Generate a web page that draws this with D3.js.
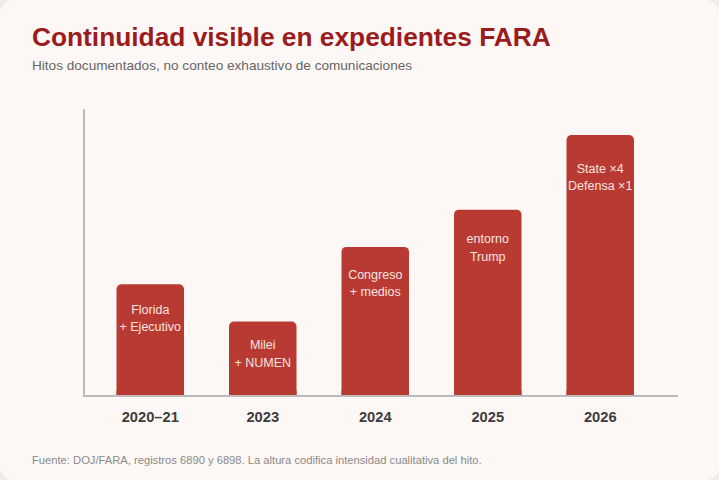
<!DOCTYPE html>
<html>
<head>
<meta charset="utf-8">
<script src="https://cdn.jsdelivr.net/npm/d3@7"></script>
<style>
  html, body { margin: 0; padding: 0; background: #efedeb; }
  #card {
    width: 719px; height: 480px;
    background: #fdf8f5;
    border-radius: 14px;
    overflow: hidden;
  }
  svg { display: block; font-family: "Liberation Sans", Arial, sans-serif; }
</style>
</head>
<body>
<div id="card"></div>
<script>
const years = ["2020–21", "2023", "2024", "2025", "2026"];
const intensity = [3, 2, 4, 5, 7];
const labelTop = ["Florida", "Milei", "Congreso", "entorno", "State ×4"];
const labelBottom = ["+ Ejecutivo", "+ NUMEN", "+ medios", "Trump", "Defensa ×1"];

const width = 719, height = 480;
const margin = {top: 109, bottom: 396, left: 84, right: 678};

const svg = d3.select("#card").append("svg")
  .attr("width", width)
  .attr("height", height);

const x = d3.scaleBand()
  .domain(years)
  .range([94, 656.5])
  .paddingInner(0.4)
  .paddingOuter(0.2);

const y = d3.scaleLinear()
  .domain([0, d3.max(intensity) * 1.1])
  .range([margin.bottom, margin.top]);

const data = years.map((d, i) => ({
  year: d, value: intensity[i], top: labelTop[i], bottom: labelBottom[i]
}));

// title block
svg.append("text")
  .attr("x", 32).attr("y", 46)
  .attr("fill", "#9b1c1f")
  .attr("font-size", 26.3)
  .attr("font-weight", "bold")
  .text("Continuidad visible en expedientes FARA");

svg.append("text")
  .attr("x", 32).attr("y", 70)
  .attr("fill", "#666")
  .attr("font-size", 13.6)
  .text("Hitos documentados, no conteo exhaustivo de comunicaciones");

// bars
svg.selectAll(".bar")
  .data(data)
  .enter().append("rect")
  .attr("class", "bar")
  .attr("x", d => x(d.year))
  .attr("y", d => y(d.value))
  .attr("width", x.bandwidth())
  .attr("height", d => y(0) - y(d.value) + 5)
  .attr("rx", 5)
  .attr("fill", "#b93a32");

// cover the rounded bottom corners so bars sit flat on the baseline
svg.selectAll(".bar-foot")
  .data(data)
  .enter().append("rect")
  .attr("x", d => x(d.year))
  .attr("y", y(0) - 6)
  .attr("width", x.bandwidth())
  .attr("height", 6)
  .attr("fill", "#b93a32");

svg.append("rect")
  .attr("x", 0).attr("y", y(0) + 1)
  .attr("width", width).attr("height", 8)
  .attr("fill", "#fdf8f5");

// labels inside bars
const lab = svg.selectAll(".lab")
  .data(data)
  .enter().append("text")
  .attr("class", "lab")
  .attr("text-anchor", "middle")
  .attr("fill", "#f7e4e0")
  .attr("font-size", 12.5);

lab.append("tspan")
  .attr("x", d => x(d.year) + x.bandwidth() / 2)
  .attr("y", d => y(d.value) + 23.5 + (y(0) - y(d.value)) * 0.055)
  .text(d => d.top);

lab.append("tspan")
  .attr("x", d => x(d.year) + x.bandwidth() / 2)
  .attr("dy", 17.5)
  .text(d => d.bottom);

// axes
svg.append("line")
  .attr("x1", margin.left).attr("x2", margin.left)
  .attr("y1", margin.top).attr("y2", margin.bottom)
  .attr("stroke", "#bdbbb9").attr("stroke-width", 2);

const xAxis = d3.axisBottom(x).tickSize(0).tickPadding(0);

const gx = svg.append("g")
  .attr("transform", "translate(0," + margin.bottom + ")")
  .call(xAxis);

gx.select(".domain").remove();
gx.append("line")
  .attr("x1", margin.left - 1).attr("x2", margin.right)
  .attr("stroke", "#bdbbb9").attr("stroke-width", 2);

gx.selectAll(".tick text")
  .attr("y", 26)
  .attr("dy", 0)
  .attr("fill", "#3d3d3d")
  .attr("font-size", 14.7)
  .attr("font-weight", "bold")
  .attr("font-family", "Liberation Sans, Arial, sans-serif");

// footer
svg.append("text")
  .attr("x", 32).attr("y", 464)
  .attr("fill", "#8a8a8a")
  .attr("font-size", 11.2)
  .text("Fuente: DOJ/FARA, registros 6890 y 6898. La altura codifica intensidad cualitativa del hito.");
</script>
</body>
</html>
